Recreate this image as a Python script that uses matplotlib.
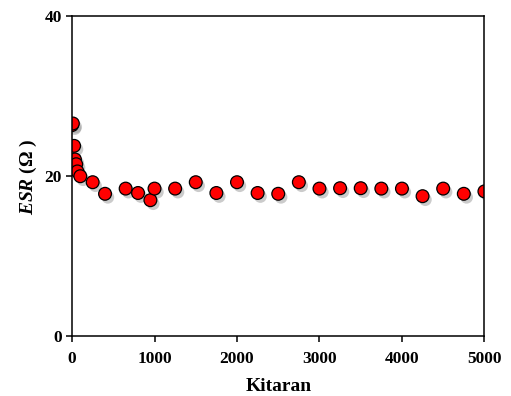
import numpy as np
import matplotlib.pyplot as plt
import matplotlib.patheffects as pe

# data
cycles = [0, 10, 25, 35, 50, 65, 100, 250, 400, 650, 800, 950, 1000, 1250,
          1500, 1750, 2000, 2250, 2500, 2750, 3000, 3250, 3500, 3750, 4000,
          4250, 4500, 4750, 5000]
esr = [26.4, 26.6, 23.8, 22.1, 21.5, 20.6, 20.0, 19.25, 17.8, 18.45, 17.9,
       17.0, 18.45, 18.45, 19.25, 17.9, 19.25, 17.9, 17.8, 19.25, 18.45,
       18.5, 18.5, 18.45, 18.45, 17.5, 18.45, 17.8, 18.1]

plt.rcParams['font.family'] = 'Liberation Serif'
plt.rcParams['font.weight'] = 'bold'
plt.rcParams['font.size'] = 12
plt.rcParams['mathtext.fontset'] = 'custom'
plt.rcParams['mathtext.it'] = 'Liberation Serif:italic:bold'
plt.rcParams['mathtext.rm'] = 'Liberation Serif:bold'

fig = plt.figure(figsize=(5.11, 3.96), dpi=100)
ax = fig.add_axes([0.141, 0.1515, 0.807, 0.807])

ax.plot(cycles, esr, linestyle='none', marker='o', markersize=9.2,
        markerfacecolor='#ff0000', markeredgecolor='black', markeredgewidth=0.9,
        path_effects=[pe.SimplePatchShadow(offset=(2, -2.5), shadow_rgbFace='0.6', alpha=0.5),
                      pe.Normal()])

ax.set_xlim(0, 5000)
ax.set_ylim(0, 40)
ax.set_xticks([0, 1000, 2000, 3000, 4000, 5000])
ax.set_yticks([0, 20, 40])
ax.tick_params(direction='out', length=4, width=1.1, top=False, right=False, labelsize=12.5)
ax.tick_params(axis='x', pad=7)
for lab in ax.get_xticklabels() + ax.get_yticklabels():
    lab.set_fontweight('bold')
for s in ax.spines.values():
    s.set_linewidth(1.1)

ax.set_xlabel('Kitaran', fontsize=14, fontweight='bold', labelpad=8)
ax.set_ylabel(r'$\mathit{ESR}$ (Ω )', fontsize=14, fontweight='bold', labelpad=4)

fig.savefig('out.png', dpi=100)
